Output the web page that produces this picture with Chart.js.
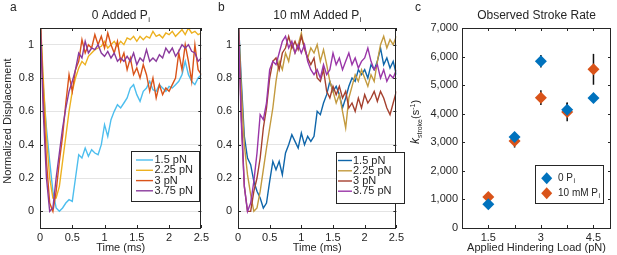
<!DOCTYPE html>
<html>
<head>
<meta charset="utf-8">
<script src="https://cdn.jsdelivr.net/npm/chart.js@4.4.0/dist/chart.umd.min.js"></script>
<style>
  body { margin: 0; background: #fff; width: 617px; height: 255px; position: relative; overflow: hidden; }
  canvas { position: absolute; top: 0; }
</style>
</head>
<body>
<canvas id="ca" width="212" height="255" style="left:0px"></canvas>
<canvas id="cb" width="197" height="255" style="left:210px"></canvas>
<canvas id="cc" width="210" height="255" style="left:407px"></canvas>
<script>
// ---- data ----
const time = [0, 0.05, 0.1, 0.15, 0.2, 0.25, 0.3, 0.35, 0.4, 0.45, 0.5, 0.55, 0.6, 0.65, 0.7, 0.75, 0.8, 0.85, 0.9, 0.95,
  1, 1.05, 1.1, 1.15, 1.2, 1.25, 1.3, 1.35, 1.4, 1.45, 1.5, 1.55, 1.6, 1.65, 1.7, 1.75, 1.8, 1.85, 1.9, 1.95,
  2, 2.05, 2.1, 2.15, 2.2, 2.25, 2.3, 2.35, 2.4, 2.45, 2.5];
const forceLabels = ["1.5 pN", "2.25 pN", "3 pN", "3.75 pN"];

// panel a: 0 added Pi
const a15 = [1.2, 0.75, 0.5, 0.3, 0.12, 0.02, 0.0, 0.02, 0.05, 0.07, 0.06, 0.2, 0.34, 0.32, 0.38, 0.33, 0.37, 0.35, 0.34, 0.4,
  0.52, 0.45, 0.55, 0.6, 0.64, 0.62, 0.65, 0.68, 0.74, 0.76, 0.7, 0.66, 0.72, 0.74, 0.78, 0.73, 0.72, 0.76, 0.74, 0.72,
  0.75, 0.74, 0.76, 0.78, 0.82, 0.9, 0.82, 0.78, 0.76, 0.8, 0.82];
const a225 = [1.2, 0.8, 0.45, 0.2, 0.08, 0.08, 0.15, 0.3, 0.45, 0.6, 0.72, 0.8, 0.86, 0.9, 0.88, 0.93, 0.95, 0.97, 0.98, 0.99,
  1.02, 0.98, 1.0, 1.02, 0.99, 1.02, 1.0, 1.04, 1.03, 1.05, 1.02, 1.05, 1.03, 1.05, 1.04, 1.08, 1.05, 1.06, 1.04, 1.07,
  1.06, 1.08, 1.05, 1.07, 1.09, 1.06, 1.1, 1.07, 1.08, 1.06, 1.07];
const a3 = [1.2, 0.7, 0.3, 0.05, 0.0, 0.12, 0.3, 0.45, 0.65, 0.82, 0.72, 0.85, 0.9, 1.03, 0.95, 1.0, 0.98, 1.06, 1.0, 1.05,
  0.98, 1.07, 1.0, 0.95, 1.02, 0.9, 0.95, 0.85, 0.92, 0.82, 0.86, 0.8, 0.88, 0.82, 0.72, 0.8, 0.68, 0.76, 0.7, 0.74,
  0.72, 0.76, 0.8, 0.95, 0.85, 1.0, 0.9, 0.78, 1.0, 0.85, 0.82];
const a375 = [1.2, 0.6, 0.2, 0.0, 0.02, 0.2, 0.35, 0.5, 0.62, 0.72, 0.78, 0.85, 0.95, 0.92, 1.02, 0.95, 0.98, 0.97, 1.0, 0.95,
  0.93, 0.96, 0.92, 0.95, 0.9, 0.92, 0.9, 0.93, 0.9, 0.95, 0.88, 0.92, 0.9, 0.97, 0.9, 0.92, 0.9, 0.94, 0.92, 0.98,
  0.95, 0.98, 0.93, 0.96, 1.0, 0.98, 1.0, 0.96, 0.95, 0.9, 0.92];

// panel b: 10 mM added Pi
const b15 = [1.2, 0.8, 0.45, 0.32, 0.28, 0.18, 0.12, 0.08, 0.02, 0.05, 0.18, 0.3, 0.25, 0.3, 0.22, 0.35, 0.4, 0.46, 0.42, 0.38,
  0.47, 0.4, 0.45, 0.42, 0.45, 0.6, 0.58, 0.65, 0.7, 0.78, 0.72, 0.75, 0.7, 0.62, 0.68, 0.75, 0.8, 0.78, 0.85, 0.82,
  0.85, 0.8, 0.88, 0.85, 0.9, 0.98, 0.88, 0.92, 0.86, 0.9, 0.82];
const b225 = [1.2, 0.75, 0.4, 0.22, 0.1, 0.0, 0.02, 0.12, 0.25, 0.38, 0.5, 0.62, 0.78, 0.9, 0.85, 0.95, 0.9, 1.0, 0.95, 1.0,
  1.07, 0.97, 0.92, 0.98, 0.95, 1.0, 0.9, 0.97, 0.88, 0.78, 0.72, 0.65, 0.7, 0.6, 0.5, 0.68, 0.75, 0.82, 0.78, 0.85,
  0.8, 0.75, 0.82, 0.78, 0.9, 1.0, 1.05, 0.98, 1.03, 1.0, 1.05];
const b3 = [1.2, 0.6, 0.15, 0.0, 0.0, 0.12, 0.2, 0.32, 0.5, 0.62, 0.8, 0.9, 0.92, 0.85, 0.95, 0.98, 1.05, 0.98, 1.02, 0.97,
  1.05, 0.98, 0.92, 0.88, 0.92, 0.8, 0.78, 0.85, 0.72, 0.68, 0.75, 0.7, 0.75, 0.68, 0.72, 0.62, 0.65, 0.6, 0.68, 0.62,
  0.7, 0.65, 0.68, 0.72, 0.66, 0.72, 0.68, 0.62, 0.58, 0.65, 0.72];
const b375 = [1.2, 0.55, 0.15, 0.0, 0.05, 0.18, 0.35, 0.58, 0.55, 0.65, 0.85, 0.9, 0.88, 0.95, 1.02, 1.05, 0.98, 1.02, 0.95, 1.0,
  0.95, 1.0, 0.9, 0.85, 0.82, 0.85, 0.8, 0.88, 0.82, 0.85, 0.95, 0.88, 0.92, 0.85, 0.9, 0.95, 0.88, 0.92, 0.86, 0.9,
  0.92, 0.98, 0.9, 0.85, 0.88, 0.8, 0.85, 0.78, 0.82, 0.8, 0.85];

// panel c: observed stroke rate
const loads = [1.5, 2.25, 3, 3.75, 4.5];
const rate0 = [828, 3185, 5834, 4142, 4550];
const err0 = [100, 150, 220, 250, 100];
const rate10 = [1085, 3045, 4562, 4060, 5554];
const err10 = [120, 230, 260, 320, 540];

// ticks
const timeTicks = [0, 0.5, 1, 1.5, 2, 2.5];
const dispTicks = [0, 0.2, 0.4, 0.6, 0.8, 1];
const loadTicks = [1.5, 3, 4.5];
const loadMinorTicks = [2.25, 3.75];
const rateTicks = [0, 1000, 2000, 3000, 4000, 5000, 6000, 7000];

// ---- styling ----
const FONT = "'Liberation Sans', Arial, sans-serif";
const INK = "#262626";
const colorsA = ["#4DBEEE", "#EDB120", "#D95319", "#8A3A9C"];
const colorsB = ["#0F66AA", "#C39A3E", "#A5402E", "#9A36A8"];

Chart.defaults.font.family = FONT;
Chart.defaults.font.size = 11;
Chart.defaults.color = INK;

function toPoints(xs, ys) {
  return xs.map((x, i) => ({ x: x, y: ys[i] }));
}

// text with a small subscript tail, e.g. "P" + "i"
function drawSub(ctx, x, y, main, sub, size, align) {
  ctx.font = size + "px " + FONT;
  const w1 = ctx.measureText(main).width;
  ctx.font = Math.round(size * 0.65) + "px " + FONT;
  const w2 = ctx.measureText(sub).width;
  let x0 = x;
  if (align === "center") x0 = x - (w1 + w2) / 2;
  ctx.textAlign = "left";
  ctx.font = size + "px " + FONT;
  ctx.fillText(main, x0, y);
  ctx.font = Math.round(size * 0.65) + "px " + FONT;
  ctx.fillText(sub, x0 + w1 + 0.5, y + size * 0.25);
}

// box, inward ticks, titles, legends
const panelDecor = {
  id: "panelDecor",
  afterDraw(chart, args, opts) {
    const ctx = chart.ctx;
    const a = chart.chartArea;
    const xs = chart.scales.x, ys = chart.scales.y;
    ctx.save();
    ctx.strokeStyle = INK;
    ctx.lineWidth = 1;
    ctx.strokeRect(Math.round(a.left) + 0.5, Math.round(a.top) + 0.5,
      Math.round(a.right - a.left) - 1, Math.round(a.bottom - a.top));
    const tl = 3;
    ctx.beginPath();
    (opts.xTicks || []).forEach(v => {
      const px = Math.round(xs.getPixelForValue(v)) + 0.5;
      ctx.moveTo(px, a.bottom); ctx.lineTo(px, a.bottom - tl);
      ctx.moveTo(px, a.top); ctx.lineTo(px, a.top + tl);
    });
    (opts.yTicks || []).forEach(v => {
      const py = Math.round(ys.getPixelForValue(v)) + 0.5;
      ctx.moveTo(a.left, py); ctx.lineTo(a.left + tl, py);
      ctx.moveTo(a.right, py); ctx.lineTo(a.right - tl, py);
    });
    ctx.stroke();

    ctx.fillStyle = INK;
    ctx.textBaseline = "alphabetic";
    // panel letter
    ctx.font = "12px " + FONT;
    ctx.textAlign = "left";
    ctx.fillText(opts.letter, opts.letterX, 11);
    // title
    const cx = (a.left + a.right) / 2;
    if (opts.titleSub) drawSub(ctx, cx, 19, opts.title, opts.titleSub, 12, "center");
    else { ctx.font = "12px " + FONT; ctx.textAlign = "center"; ctx.fillText(opts.title, cx, 19); }

    // rotated plain y label
    if (opts.yLabel) {
      ctx.save();
      ctx.translate(opts.yLabel.x, opts.yLabel.y);
      ctx.rotate(-Math.PI / 2);
      ctx.font = "11px " + FONT;
      ctx.textAlign = "center";
      ctx.textBaseline = "middle";
      ctx.fillText(opts.yLabel.text, 0, 0);
      ctx.restore();
    }

    // legend
    const L = opts.legend;
    if (L) {
      const fs = L.size || 11;
      ctx.fillStyle = "#fff";
      ctx.fillRect(L.x, L.y, L.w, L.h);
      ctx.strokeStyle = INK;
      ctx.lineWidth = 1;
      ctx.strokeRect(L.x + 0.5, L.y + 0.5, L.w, L.h);
      chart.data.datasets.forEach((ds, i) => {
        const ry = L.rowY[i];
        if (L.marker) {
          ctx.fillStyle = ds.backgroundColor;
          ctx.beginPath();
          ctx.moveTo(L.lineX0, ry - 6); ctx.lineTo(L.lineX0 + 5.5, ry);
          ctx.lineTo(L.lineX0, ry + 6); ctx.lineTo(L.lineX0 - 5.5, ry);
          ctx.closePath(); ctx.fill();
        } else {
          ctx.strokeStyle = ds.borderColor;
          ctx.lineWidth = 1.4;
          ctx.beginPath(); ctx.moveTo(L.lineX0, ry); ctx.lineTo(L.lineX1, ry); ctx.stroke();
        }
        ctx.fillStyle = INK;
        ctx.textBaseline = "middle";
        if (L.sub) drawSub(ctx, L.textX, ry, L.labels[i], L.sub, fs, "left");
        else { ctx.font = fs + "px " + FONT; ctx.textAlign = "left"; ctx.fillText(L.labels[i], L.textX, ry); }
      });
    }

    // rotated y label with italic k, subscript and superscript
    if (opts.rateLabel) {
      ctx.save();
      ctx.translate(opts.rateLabel.x, opts.rateLabel.y);
      ctx.rotate(-Math.PI / 2);
      ctx.fillStyle = INK;
      ctx.textBaseline = "alphabetic";
      const parts = [
        { t: "k", f: "italic 12px " + FONT, dy: 0 },
        { t: "stroke", f: "7px " + FONT, dy: 2.5 },
        { t: "(s", f: "11px " + FONT, dy: 0 },
        { t: "-1", f: "7px " + FONT, dy: -4 },
        { t: ")", f: "11px " + FONT, dy: 0 }
      ];
      let total = 0;
      parts.forEach(p => { ctx.font = p.f; p.w = ctx.measureText(p.t).width; total += p.w; });
      let x = -total / 2;
      ctx.textAlign = "left";
      parts.forEach(p => { ctx.font = p.f; ctx.fillText(p.t, x, 4 + p.dy); x += p.w; });
      ctx.restore();
    }
    ctx.restore();
  }
};

// error bars drawn under the diamonds
const errorBars = {
  id: "errorBars",
  beforeDatasetsDraw(chart, args, opts) {
    if (!opts.sets) return;
    const ctx = chart.ctx;
    const xs = chart.scales.x, ys = chart.scales.y;
    ctx.save();
    ctx.strokeStyle = "#111";
    ctx.lineWidth = 1.5;
    opts.sets.forEach(s => {
      s.x.forEach((xv, i) => {
        const px = xs.getPixelForValue(xv);
        ctx.beginPath();
        ctx.moveTo(px, ys.getPixelForValue(s.y[i] - s.e[i]));
        ctx.lineTo(px, ys.getPixelForValue(s.y[i] + s.e[i]));
        ctx.stroke();
      });
    });
    ctx.restore();
  }
};

function setTicks(list) {
  return scale => { scale.ticks = list.map(v => ({ value: v })); };
}

function traceChart(id, series, colors, yWidth, rightPad, decor) {
  return new Chart(document.getElementById(id), {
    type: "line",
    data: {
      datasets: series.map((s, i) => ({
        label: forceLabels[i],
        data: toPoints(time, s),
        borderColor: colors[i],
        borderWidth: 1.4,
        pointRadius: 0,
        tension: 0,
        order: series.length - i
      }))
    },
    options: {
      responsive: false,
      animation: false,
      devicePixelRatio: 1,
      layout: { padding: { top: 28, right: rightPad, left: 0, bottom: 0 } },
      plugins: { legend: { display: false }, tooltip: { enabled: false }, panelDecor: decor },
      scales: {
        x: {
          type: "linear", min: 0, max: 2.5,
          afterBuildTicks: setTicks(timeTicks),
          afterFit: s => { s.height = 27; },
          grid: { display: false, drawTicks: false },
          border: { display: false },
          ticks: { padding: 3, maxRotation: 0, autoSkip: false, callback: v => String(v) },
          title: { display: true, text: "Time (ms)", padding: { top: 0, bottom: 0 } }
        },
        y: {
          type: "linear", min: -0.1, max: 1.1,
          afterBuildTicks: setTicks(dispTicks),
          afterFit: s => { s.width = yWidth; },
          grid: { color: "#e4e4e4", drawTicks: false },
          border: { display: false },
          ticks: { padding: 6, autoSkip: false, callback: v => String(v) }
        }
      }
    },
    plugins: [panelDecor]
  });
}

traceChart("ca", [a15, a225, a3, a375], colorsA, 40, 5, {
  letter: "a", letterX: 10, title: "0 Added P", titleSub: "i",
  xTicks: timeTicks, yTicks: dispTicks,
  yLabel: { text: "Normalized Displacement", x: 7.5, y: 121 },
  legend: { x: 131, y: 151, w: 68, h: 50, lineX0: 136, lineX1: 153, textX: 154.5,
    rowY: [160, 170.3, 180.6, 190.8], labels: forceLabels }
});

traceChart("cb", [b15, b225, b3, b375], colorsB, 28, 3, {
  letter: "b", letterX: 8, title: "10 mM Added P", titleSub: "i",
  xTicks: timeTicks, yTicks: dispTicks,
  legend: { x: 126, y: 152, w: 68, h: 51, lineX0: 128, lineX1: 142, textX: 143,
    rowY: [160.5, 170.8, 181, 191.2], labels: forceLabels }
});

new Chart(document.getElementById("cc"), {
  type: "scatter",
  data: {
    datasets: [
      { label: "0 Pi", data: toPoints(loads, rate0), backgroundColor: "#0072BD", borderColor: "#0072BD",
        pointStyle: "rectRot", pointRadius: 6, borderWidth: 0, order: 0 },
      { label: "10 mM Pi", data: toPoints(loads, rate10), backgroundColor: "#D95319", borderColor: "#D95319",
        pointStyle: "rectRot", pointRadius: 6, borderWidth: 0, order: 1 }
    ]
  },
  options: {
    responsive: false,
    animation: false,
    devicePixelRatio: 1,
    layout: { padding: { top: 28, right: 1, left: 0, bottom: 0 } },
    plugins: {
      legend: { display: false }, tooltip: { enabled: false },
      errorBars: { sets: [{ x: loads, y: rate10, e: err10 }, { x: loads, y: rate0, e: err0 }] },
      panelDecor: {
        letter: "c", letterX: 8, title: "Observed Stroke Rate",
        xTicks: loadTicks.concat(loadMinorTicks), yTicks: rateTicks,
        legend: { x: 128, y: 165, w: 68, h: 38, lineX0: 139.7, textX: 151, size: 10,
          rowY: [178.3, 193.3], labels: ["0 P", "10 mM P"], sub: "i", marker: true },
        rateLabel: { x: 8, y: 122 }
      }
    },
    scales: {
      x: {
        type: "linear", min: 0.75, max: 5,
        afterBuildTicks: setTicks(loadTicks),
        afterFit: s => { s.height = 27; },
        grid: { display: false, drawTicks: false },
        border: { display: false },
        ticks: { padding: 3, maxRotation: 0, autoSkip: false, callback: v => String(v) },
        title: { display: true, text: "Applied Hindering Load (pN)", padding: { top: 0, bottom: 0 } }
      },
      y: {
        type: "linear", min: 0, max: 7000,
        afterBuildTicks: setTicks(rateTicks),
        afterFit: s => { s.width = 55; },
        grid: { display: false, drawTicks: false },
        border: { display: false },
        ticks: { padding: 4, autoSkip: false, callback: v => v.toLocaleString("en-US") }
      }
    }
  },
  plugins: [errorBars, panelDecor]
});
</script>
</body>
</html>
